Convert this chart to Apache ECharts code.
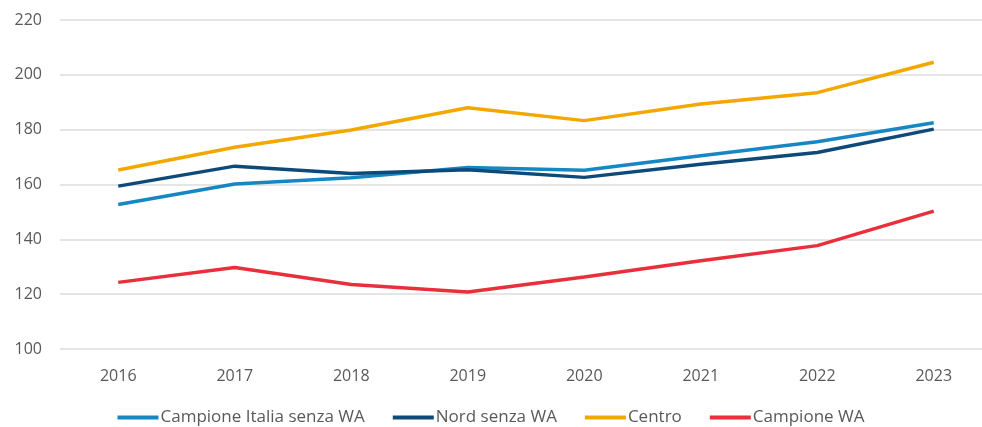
<!DOCTYPE html>
<html>
<head>
<meta charset="utf-8">
<script src="https://cdn.jsdelivr.net/npm/echarts@6/dist/echarts.min.js"></script>
<style>
  html, body { margin: 0; padding: 0; background: #fff; }
  #chart { width: 982px; height: 427px; }
</style>
</head>
<body>
<div id="chart"></div>
<script>
const years = ["2016", "2017", "2018", "2019", "2020", "2021", "2022", "2023"];
const italiaSenzaWA = [152.7, 160.2, 162.5, 166.2, 165.2, 170.5, 175.6, 182.5];
const nordSenzaWA = [159.4, 166.7, 164.0, 165.4, 162.6, 167.4, 171.7, 180.2];
const centro = [165.3, 173.6, 179.9, 188.0, 183.3, 189.4, 193.5, 204.6];
const campioneWA = [124.3, 129.7, 123.5, 120.8, 126.3, 132.2, 137.7, 150.3];

const chart = echarts.init(document.getElementById("chart"));
const textColor = "#595959";
const font = "'Open Sans', sans-serif";

const mkLine = (name, data, color) => ({
  name,
  type: "line",
  data,
  symbol: "none",
  lineStyle: { width: 3.5, color },
  itemStyle: { color },
  z: 2,
});

chart.setOption({
  animation: false,
  // the plot runs past the right edge of the picture, like in the source
  grid: { left: 60, width: 932, top: 20, bottom: 78, outerBoundsMode: "none" },
  legend: {
    bottom: 0,
    left: "center",
    padding: [0, 5, 1, 5],
    itemWidth: 41,
    itemHeight: 4,
    itemGap: 28,
    icon: "rect",
    textStyle: { color: textColor, fontSize: 17, fontFamily: font, padding: [0, 0, 0, -3] },
  },
  xAxis: {
    type: "category",
    data: years,
    boundaryGap: true,
    axisLine: { show: false },
    axisTick: { show: false },
    axisLabel: { color: textColor, fontSize: 16, fontFamily: font, margin: 19 },
  },
  yAxis: {
    type: "value",
    min: 100,
    max: 220,
    interval: 20,
    axisLine: { show: false },
    axisTick: { show: false },
    axisLabel: { color: textColor, fontSize: 16, fontFamily: font, margin: 18 },
    splitLine: { lineStyle: { color: "#dcdcdc", width: 1.5 } },
  },
  series: [
    mkLine("Campione Italia senza WA", italiaSenzaWA, "#1787c3"),
    mkLine("Nord senza WA", nordSenzaWA, "#0e4a79"),
    mkLine("Centro", centro, "#f2a800"),
    mkLine("Campione WA", campioneWA, "#e92f3b"),
  ],
});
</script>
</body>
</html>
